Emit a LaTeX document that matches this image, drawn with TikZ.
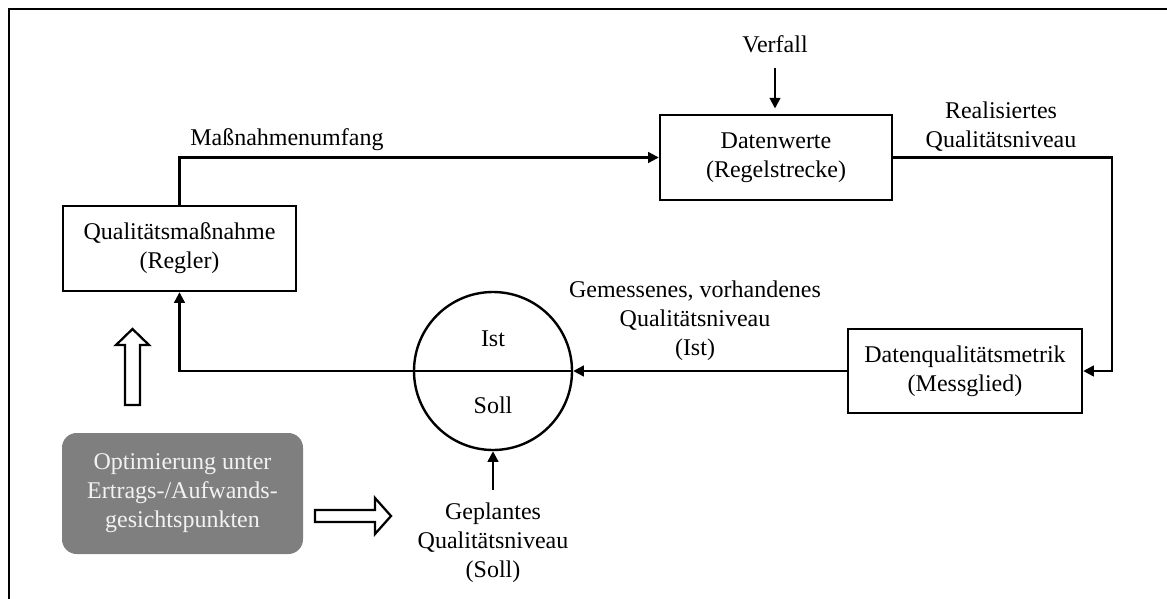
\documentclass[tikz,border=0pt]{standalone}
\usepackage{fontspec}
\setmainfont{Liberation Serif}
\usetikzlibrary{arrows.meta}
\definecolor{optgray}{HTML}{7F7F7F}
\definecolor{optwhite}{HTML}{F2F2F2}
\begin{document}
\begin{tikzpicture}[x=0.75pt,y=-0.75pt,
  every node/.style={font=\fontsize{18}{21.75}\selectfont, inner sep=0pt},
  box/.style={draw, line width=1.8pt, align=center},
  arr/.style={line width=1.7pt, -{Triangle[length=8pt,width=8pt]}},
  ln/.style={line width=1.8pt},
  lbl/.style={align=center},
  hollow/.style={draw, line width=1.7pt, fill=white, line join=miter}
]
\useasboundingbox (0,0) rectangle (1167,599);
\draw[line width=2.2pt] (9,599) -- (9,9) -- (1167,9);

\node[box, minimum width=174.75pt, minimum height=63.75pt] (qm) at (179.5,248.5) {Qualitätsmaßnahme\\(Regler)};
\node[box, minimum width=174pt, minimum height=63.75pt] (dw) at (776,157.5) {Datenwerte\\(Regelstrecke)};
\node[box, minimum width=175.5pt, minimum height=63pt] (dq) at (965,371) {Datenqualitätsmetrik\\(Messglied)};
\node[draw, circle, line width=1.8pt, minimum size=118.5pt] (sum) at (493,371) {};
\node[anchor=base] (ist) at (493,346) {Ist};
\node[anchor=base] (soll) at (493,413) {Soll};
\node[fill=optgray, rounded corners=11pt, minimum width=180.75pt, minimum height=90.75pt, text=optwhite, align=center] (opt) at (182.5,493.5) {Optimierung unter\\Ertrags-/Aufwands-\\gesichtspunkten};

\node[anchor=base west] (mu) at (190,146) {Maßnahmenumfang};
\node[anchor=base] (vf) at (775,53) {Verfall};
\node[lbl] (rq) at (1001,127) {Realisiertes\\Qualitätsniveau};
\node[lbl] (gq) at (695,320.5) {Gemessenes, vorhandenes\\Qualitätsniveau\\(Ist)};
\node[lbl] (pq) at (493,543) {Geplantes\\Qualitätsniveau\\(Soll)};

\coordinate (c1) at (1112,371);
\draw[arr] (qm.north) |- (dw.west);
\draw[arr] (dw.east) -| (c1) -- (dq.east);
\draw[arr] (dq.west) -- (sum.east);
\draw[arr] (sum.west) -| (qm.south);
\draw[ln] (sum.west) -- (sum.east);
\draw[arr, shorten <=11pt, shorten >=4pt] (vf.south) -- (vf.south |- dw.north);
\draw[arr, shorten <=10pt] (pq.north) -- (sum.south);

\draw[hollow] (125,405) -- (140,405) -- (140,345) -- (149,345) -- (132.5,329) -- (116,345) -- (125,345) -- cycle;
\draw[hollow] (315,510) -- (375,510) -- (375,498) -- (391,516) -- (375,534) -- (375,522) -- (315,522) -- cycle;
\end{tikzpicture}
\end{document}
